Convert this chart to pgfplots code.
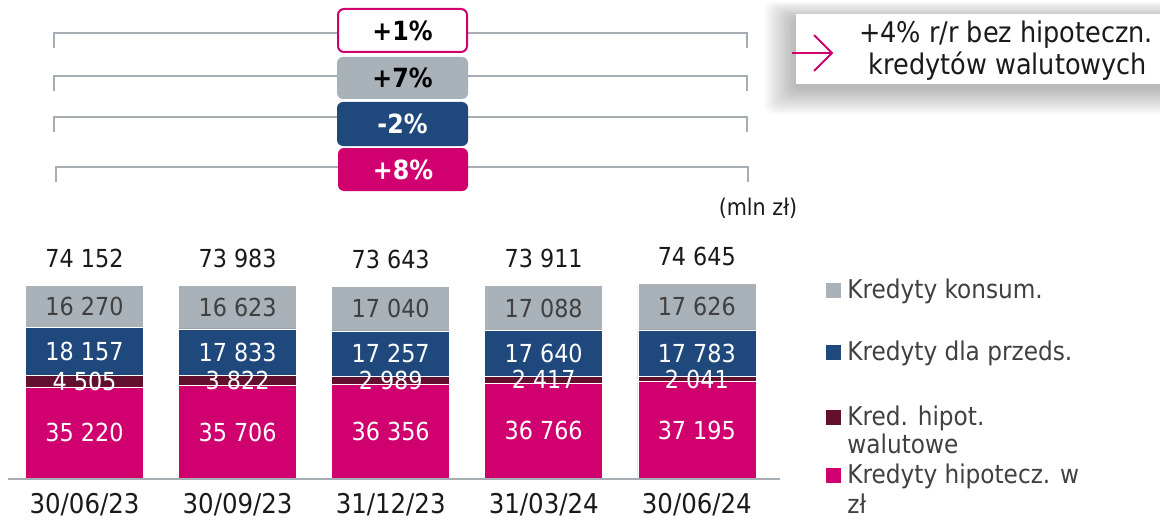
\documentclass[border=0pt]{standalone}
\usepackage{fontspec}
\setmainfont{DejaVu Sans Condensed}
\usepackage{pgfplots}
\usepackage{pgfplotstable}
\pgfplotsset{compat=1.18}
\definecolor{cgray}{HTML}{A9B1B9}
\definecolor{cblue}{HTML}{1F497D}
\definecolor{cdark}{HTML}{62102E}
\definecolor{cpink}{HTML}{D0006F}
\definecolor{lnclr}{HTML}{A6ADB4}
\definecolor{txclr}{HTML}{404040}
\definecolor{totclr}{HTML}{1A1A1A}
\pgfplotstableread{
cat pink dark blue gray
0 35220 4505 18157 16270
1 35706 3822 17833 16623
2 36356 2989 17257 17040
3 36766 2417 17640 17088
4 37195 2041 17783 17626
}\loans
\begin{document}
\begin{tikzpicture}
\path[use as bounding box] (0pt,0pt) rectangle (580pt,-262pt);
\begin{axis}[
  at={(4pt,-239.5pt)}, anchor=south west,
  scale only axis, width=385pt, height=104.65pt,
  xmin=-0.5, xmax=4.53, ymin=0, ymax=80000,
  ybar stacked, bar width=59pt,
  axis line style={draw=none},
  xtick={0,1,2,3,4},
  xticklabels={30/06/23,30/09/23,31/12/23,31/03/24,30/06/24},
  major tick length=0pt,
  xticklabel style={anchor=center, yshift=-13pt, font=\fontsize{13.6}{16}\selectfont, color=totclr},
  ytick=\empty,
]
\addplot[fill=cpink, draw=white, line width=0.3pt] table[x=cat, y=pink] {\loans};
\addplot[fill=cdark, draw=white, line width=0.3pt] table[x=cat, y=dark] {\loans};
\addplot[fill=cblue, draw=white, line width=0.3pt] table[x=cat, y=blue] {\loans};
\addplot[fill=cgray, draw=white, line width=0.3pt] table[x=cat, y=gray] {\loans};
\end{axis}
\begin{scope}[x=0.5pt,y=-0.5pt]
\draw[lnclr, line width=1pt] (8,479) -- (780,479);
% segment labels
\begin{scope}[every node/.style={anchor=center, text=white, font=\fontsize{12.4}{14}\selectfont}]
\node at (84.5,432.9) {35 220};
\node at (237.6,432.3) {35 706};
\node at (390.7,431.4) {36 356};
\node at (543.7,430.9) {36 766};
\node at (696.8,430.3) {37 195};
\node at (84.5,381.0) {4 505};
\node at (237.6,380.6) {3 822};
\node at (390.7,380.0) {2 989};
\node at (543.7,379.6) {2 417};
\node at (696.8,379.0) {2 041};
\node at (84.5,351.3) {18 157};
\node at (237.6,352.3) {17 833};
\node at (390.7,353.5) {17 257};
\node at (543.7,353.4) {17 640};
\node at (696.8,353.1) {17 783};
\end{scope}
\begin{scope}[every node/.style={anchor=center, text=txclr, font=\fontsize{12.4}{14}\selectfont}]
\node at (84.5,306.3) {16 270};
\node at (237.6,307.2) {16 623};
\node at (390.7,308.6) {17 040};
\node at (543.7,308.0) {17 088};
\node at (696.8,306.8) {17 626};
\end{scope}
\begin{scope}[every node/.style={anchor=center, text=totclr, font=\fontsize{12.4}{14}\selectfont}]
\node at (84.5,258.0) {74 152};
\node at (237.6,258.4) {73 983};
\node at (390.7,259.3) {73 643};
\node at (543.7,258.6) {73 911};
\node at (696.8,256.7) {74 645};
\end{scope}
% brackets
\begin{scope}[draw=lnclr, line width=1pt]
\draw (54,48) -- (54,33) -- (747,33) -- (747,48);
\draw (54,91) -- (54,76) -- (747,76) -- (747,91);
\draw (54,132) -- (54,117) -- (747,117) -- (747,132);
\draw (56,182) -- (56,167) -- (748,167) -- (748,182);
\end{scope}
% growth boxes
\filldraw[fill=white, draw=cpink, line width=1pt, rounded corners=3pt] (338,9) rectangle (467,52);
\fill[cgray, rounded corners=3pt] (337,57) rectangle (468,99);
\fill[cblue, rounded corners=3pt] (337,102) rectangle (468,146);
\fill[cpink, rounded corners=3pt] (338,148) rectangle (468,191);
\begin{scope}[every node/.style={anchor=center, font=\bfseries\fontsize{13.2}{15}\selectfont}]
\node[text=black] at (402.5,31) {+1\%};
\node[text=black] at (402.5,78) {+7\%};
\node[text=white] at (402.5,124) {-2\%};
\node[text=white] at (403,170) {+8\%};
\end{scope}
% mln zl
\node[anchor=base, text=totclr, font=\fontsize{11.5}{14}\selectfont] at (758,215) {(mln zł)};
% right box with shadow
\foreach \i in {1,...,13} {
  \fill[black, opacity=0.025, rounded corners=4pt] (796-2.4*\i,14-1.4*\i+6) rectangle (1175,84+2*\i+4);
}
\fill[white] (796,14) rectangle (1175,84);
\draw[cpink, line width=1pt] (792,53) -- (832,53);
\draw[cpink, line width=1pt] (814,35) -- (832,53) -- (814,71);
\node[anchor=base, text=totclr, font=\fontsize{14.2}{16}\selectfont] at (1006,43) {+4\% r/r bez hipoteczn.};
\node[anchor=base, text=totclr, font=\fontsize{14.2}{16}\selectfont] at (1008,75) {kredytów walutowych};
% legend
\fill[cgray] (826,283) rectangle (841,298);
\fill[cblue] (826,345) rectangle (841,360);
\fill[cdark] (826,410) rectangle (841,425);
\fill[cpink] (826,468) rectangle (841,483);
\begin{scope}[every node/.style={anchor=base west, text=txclr, inner sep=0pt, font=\fontsize{12.9}{15}\selectfont}]
\node at (847,298) {Kredyty konsum.};
\node at (847,360) {Kredyty dla przeds.};
\node at (847,425) {Kred. hipot.};
\node at (847,453) {walutowe};
\node at (847,483) {Kredyty hipotecz. w};
\node at (847,513) {zł};
\end{scope}
\end{scope}
\end{tikzpicture}
\end{document}
